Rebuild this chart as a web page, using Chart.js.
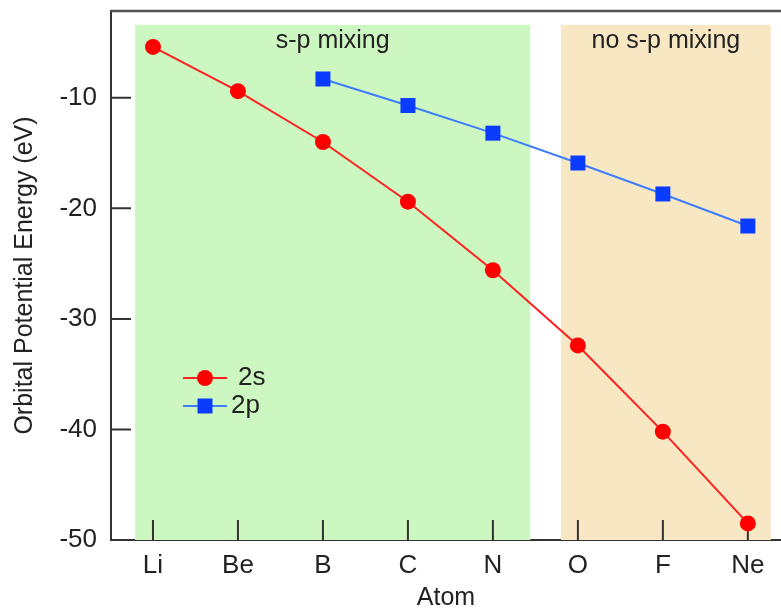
<!DOCTYPE html>
<html>
<head>
<meta charset="utf-8">
<title>Orbital Potential Energy</title>
<script src="https://cdn.jsdelivr.net/npm/chart.js@4.4.1/dist/chart.umd.min.js"></script>
<style>
  html, body { margin: 0; padding: 0; background: #fff; }
  #wrap { width: 781px; height: 613px; }
</style>
</head>
<body>
<div id="wrap"><canvas id="orbitals"></canvas></div>
<script>
// atoms along the bottom, energies in eV
const atoms = ["Li", "Be", "B", "C", "N", "O", "F", "Ne"];
const energy2s = [-5.4, -9.4, -14.0, -19.4, -25.6, -32.4, -40.2, -48.5];
const energy2p = [null, null, -8.3, -10.7, -13.2, -15.9, -18.7, -21.6];
const yTicks = [-50, -40, -30, -20, -10];

// shaded bands (x in atom index units)
const bands = [
  { from: -0.21, to: 4.44, color: "#ccf7c0", label: "s-p mixing" },
  { from: 4.8, to: 7.27, color: "#f8e7c3", label: "no s-p mixing" },
];
const bandTop = -3.4;

const FONT = "'Liberation Sans', Arial, Helvetica, sans-serif";
const AXIS = "#333333";

const toPoints = (arr) =>
  arr.map((v, i) => (v === null ? null : { x: i, y: v })).filter((p) => p);

// bands, inward ticks, top border and legend
const decorations = {
  id: "decorations",
  beforeDatasetsDraw(chart) {
    const { ctx, scales: { x, y }, chartArea } = chart;
    ctx.save();
    bands.forEach((b) => {
      const x0 = x.getPixelForValue(b.from);
      const x1 = x.getPixelForValue(b.to);
      const y0 = y.getPixelForValue(bandTop);
      ctx.fillStyle = b.color;
      ctx.fillRect(x0, y0, x1 - x0, chartArea.bottom - y0);
      ctx.fillStyle = "#222";
      ctx.font = "25px " + FONT;
      ctx.textAlign = "center";
      ctx.textBaseline = "alphabetic";
      ctx.fillText(b.label, (x0 + x1) / 2, y0 + 23);
    });

    // ticks pointing into the plot
    ctx.strokeStyle = AXIS;
    ctx.lineWidth = 2;
    ctx.beginPath();
    atoms.forEach((a, i) => {
      const px = x.getPixelForValue(i);
      ctx.moveTo(px, chartArea.bottom);
      ctx.lineTo(px, chartArea.bottom - 20);
    });
    yTicks.forEach((t) => {
      const py = y.getPixelForValue(t);
      ctx.moveTo(chartArea.left, py);
      ctx.lineTo(chartArea.left + 20, py);
    });
    ctx.stroke();

    // top frame line
    ctx.lineWidth = 2.5;
    ctx.strokeStyle = "#555";
    ctx.beginPath();
    ctx.moveTo(chartArea.left, chartArea.top);
    ctx.lineTo(chartArea.right, chartArea.top);
    ctx.stroke();
    ctx.restore();
  },
  afterDatasetsDraw(chart) {
    const { ctx } = chart;
    const items = [
      { ds: chart.data.datasets[0], y: 378, textX: 238 },
      { ds: chart.data.datasets[1], y: 406, textX: 231 },
    ];
    ctx.save();
    items.forEach((it) => {
      ctx.strokeStyle = it.ds.borderColor;
      ctx.lineWidth = it.ds.borderWidth;
      ctx.beginPath();
      ctx.moveTo(183, it.y);
      ctx.lineTo(227, it.y);
      ctx.stroke();
      ctx.fillStyle = it.ds.pointBackgroundColor;
      if (it.ds.pointStyle === "rect") {
        ctx.fillRect(205 - 7.5, it.y - 7.5, 15, 15);
      } else {
        ctx.beginPath();
        ctx.arc(205, it.y, 8, 0, Math.PI * 2);
        ctx.fill();
      }
      ctx.fillStyle = "#222";
      ctx.font = "26px " + FONT;
      ctx.textAlign = "left";
      ctx.textBaseline = "middle";
      ctx.fillText(it.ds.label, it.textX, it.y);
    });
    ctx.restore();
  },
};

new Chart(document.getElementById("orbitals"), {
  type: "line",
  data: {
    datasets: [
      {
        label: "2s",
        data: toPoints(energy2s),
        borderColor: "#ff2020",
        borderWidth: 2,
        pointStyle: "circle",
        pointRadius: 8,
        pointBackgroundColor: "#ff0000",
        pointBorderWidth: 0,
      },
      {
        label: "2p",
        data: toPoints(energy2p),
        borderColor: "#3f7dff",
        borderWidth: 2,
        pointStyle: "rect",
        pointRadius: 10.6,
        pointBackgroundColor: "#0a3cff",
        pointBorderWidth: 0,
      },
    ],
  },
  plugins: [decorations],
  options: {
    responsive: true,
    maintainAspectRatio: false,
    animation: false,
    layout: { autoPadding: false, padding: { top: 11, right: 0, left: 0, bottom: 0 } },
    plugins: { legend: { display: false }, tooltip: { enabled: false } },
    scales: {
      x: {
        type: "linear",
        min: -0.494,
        max: 7.39,
        afterBuildTicks: (s) => { s.ticks = atoms.map((a, i) => ({ value: i })); },
        afterFit: (s) => {
          s.height = 73;
          s.paddingLeft = 0;
          s.paddingRight = 0;
        },
        ticks: {
          callback: (v) => atoms[v],
          color: "#222",
          font: { family: FONT, size: 26 },
          padding: 10,
          maxRotation: 0,
        },
        grid: { display: false, drawTicks: false },
        border: { display: true, color: AXIS, width: 2 },
        title: {
          display: true,
          text: "Atom",
          color: "#222",
          font: { family: FONT, size: 25 },
          padding: { top: 0, bottom: 0 },
        },
      },
      y: {
        min: -50,
        max: -2.15,
        afterBuildTicks: (s) => { s.ticks = yTicks.map((v) => ({ value: v })); },
        afterFit: (s) => {
          s.width = 111;
          s.paddingTop = 0;
          s.paddingBottom = 0;
        },
        ticks: {
          color: "#222",
          font: { family: FONT, size: 26 },
          padding: 14,
        },
        grid: { display: false, drawTicks: false },
        border: { display: true, color: AXIS, width: 2 },
        title: {
          display: true,
          text: "Orbital Potential Energy (eV)",
          color: "#222",
          font: { family: FONT, size: 25 },
          padding: { top: 10, bottom: 0 },
        },
      },
    },
  },
});
</script>
</body>
</html>
